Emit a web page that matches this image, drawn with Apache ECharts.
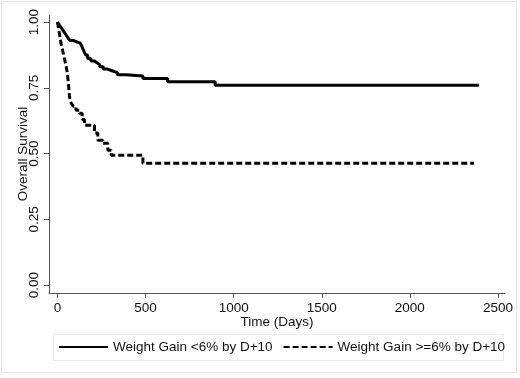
<!DOCTYPE html>
<html>
<head>
<meta charset="utf-8">
<script src="https://cdn.jsdelivr.net/npm/echarts@6/dist/echarts.min.js"></script>
<style>
  html, body { margin: 0; padding: 0; background: #fff; }
  #chart { width: 520px; height: 378px; }
</style>
</head>
<body>
<div id="chart"></div>
<script>
// Kaplan-Meier curves (days, survival)
const lowTimes = [0, 10, 20, 30, 40, 50, 60, 70, 90, 110, 130, 140, 150, 160, 172, 190, 210, 225, 240, 260, 280, 310, 340, 390, 485, 625, 895, 2392];
const lowSurv = [1.0, 0.99, 0.98, 0.97, 0.96, 0.95, 0.94, 0.93, 0.925, 0.92, 0.915, 0.905, 0.89, 0.875, 0.862, 0.852, 0.845, 0.838, 0.83, 0.822, 0.815, 0.808, 0.8, 0.795, 0.786, 0.773, 0.76, 0.76];

const highTimes = [0, 5, 10, 15, 20, 25, 30, 35, 40, 45, 50, 55, 60, 64, 68, 72, 80, 90, 105, 125, 140, 153, 210, 229, 257, 286, 305, 485, 2364];
const highSurv = [1.0, 0.98, 0.96, 0.94, 0.92, 0.905, 0.89, 0.875, 0.86, 0.845, 0.83, 0.81, 0.78, 0.75, 0.72, 0.7, 0.69, 0.68, 0.665, 0.653, 0.63, 0.608, 0.578, 0.551, 0.539, 0.513, 0.494, 0.4635, 0.4635];

const xTicks = [0, 500, 1000, 1500, 2000, 2500];
const yTicks = [0, 0.25, 0.5, 0.75, 1.0];

const seriesNames = ["Weight Gain <6% by D+10", "Weight Gain >=6% by D+10"];

const font = "Liberation Sans, Arial, sans-serif";

const chart = echarts.init(document.getElementById("chart"));

const toPairs = (ts, vs) => ts.map((t, i) => [t, vs[i]]);

chart.setOption({
  animation: false,
  backgroundColor: "#fff",
  textStyle: { fontFamily: font },
  grid: { left: 49, right: 15, top: 15, bottom: 85, outerBoundsMode: "none" },
  graphic: [
    // outer frame
    {
      type: "rect",
      shape: { x: 1.5, y: 1.5, width: 515, height: 371 },
      style: { fill: "none", stroke: "#e6e6e6", lineWidth: 1 },
      silent: true,
    },
    // legend box
    {
      type: "rect",
      shape: { x: 53.5, y: 334.5, width: 450, height: 26 },
      style: { fill: "none", stroke: "#ededed", lineWidth: 1 },
      silent: true,
    },
  ],
  legend: {
    left: 58,
    top: 340,
    padding: 0,
    itemWidth: 49,
    itemHeight: 14,
    itemGap: 10,
    itemStyle: { opacity: 0, borderWidth: 0 },
    textStyle: { fontSize: 13.5, color: "#111", fontFamily: font },
    data: seriesNames,
  },
  xAxis: {
    type: "value",
    min: -48,
    max: 2540,
    name: "Time (Days)",
    nameLocation: "middle",
    nameGap: 22,
    nameMoveOverlap: false,
    nameTextStyle: { fontSize: 13.5, color: "#111", fontFamily: font },
    axisLine: { show: true, onZero: false, lineStyle: { color: "#555", width: 1 } },
    axisTick: { show: true, length: 5, customValues: xTicks, lineStyle: { color: "#555" } },
    axisLabel: {
      customValues: xTicks,
      fontSize: 13.5,
      color: "#111",
      margin: 8,
      fontFamily: font,
      formatter: (v) => String(v),
    },
    splitLine: { show: false },
  },
  yAxis: {
    type: "value",
    min: -0.03,
    max: 1.027,
    name: "Overall Survival",
    nameLocation: "middle",
    nameGap: 19,
    nameMoveOverlap: false,
    nameTextStyle: { fontSize: 13.5, color: "#111", fontFamily: font },
    axisLine: { show: true, onZero: false, lineStyle: { color: "#555", width: 1 } },
    axisTick: { show: true, length: 5, customValues: yTicks, lineStyle: { color: "#555" } },
    axisLabel: {
      customValues: yTicks,
      rotate: 90,
      fontSize: 13.5,
      color: "#111",
      margin: 8,
      fontFamily: font,
      formatter: (v) => v.toFixed(2),
    },
    splitLine: { show: false },
  },
  series: [
    {
      name: seriesNames[0],
      type: "line",
      step: "end",
      symbol: "none",
      data: toPairs(lowTimes, lowSurv),
      lineStyle: { color: "#000", width: 3, type: "solid" },
      itemStyle: { color: "#000" },
    },
    {
      name: seriesNames[1],
      type: "line",
      step: "end",
      symbol: "none",
      data: toPairs(highTimes, highSurv),
      lineStyle: { color: "#000", width: 3, type: [6, 3] },
      itemStyle: { color: "#000" },
    },
  ],
});
</script>
</body>
</html>
